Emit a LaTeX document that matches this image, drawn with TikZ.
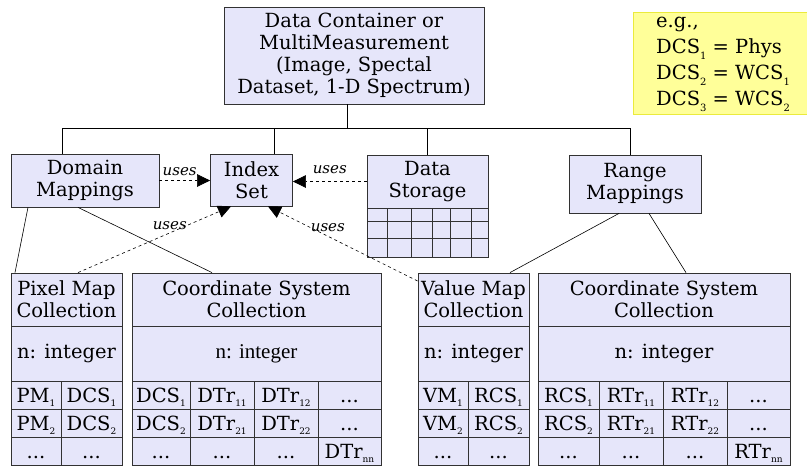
\documentclass[tikz,border=0pt]{standalone}
\usepackage{fontspec}
\setmainfont{DejaVu Serif}
\newfontfamily\libser{Liberation Serif}
\usetikzlibrary{arrows.meta,calc}
\definecolor{boxfill}{RGB}{230,230,250}
\definecolor{egfill}{RGB}{255,255,153}
\definecolor{egline}{RGB}{235,235,60}
\definecolor{edge}{RGB}{50,50,50}
\newcommand\sbs[1]{\raisebox{-4pt}{\fontsize{9}{9}\selectfont #1}}
\newcommand\esbs[1]{\raisebox{-6pt}{\fontsize{10}{10}\selectfont #1}}
\newcommand\tcell[6]{\node[cell,minimum width={#3-#2},minimum height={#5-#4}] (#1) at ({(#2+#3)/2},{(#4+#5)/2}) {#6};}
\newcommand\rcell[6]{\node[cell,rowtext,minimum width={#3-#2},minimum height={#5-#4}] (#1) at ({(#2+#3)/2},{(#4+#5)/2}) {#6};}
\begin{document}
\begin{tikzpicture}[x=1pt,y=-1pt,
  font=\fontsize{19.5}{22}\selectfont,
  box/.style={draw=edge, fill=boxfill, line width=0.8pt, inner sep=0pt, align=center},
  cell/.style={draw=edge, fill=boxfill, line width=0.8pt, inner sep=0pt, align=center},
  rowtext/.style={text height=16pt, text depth=2pt},
  uses/.style={dashed, line width=0.6pt, -{Triangle[length=13pt,width=12.5pt]}},
  uselbl/.style={font=\fontsize{15}{15}\selectfont\itshape, inner sep=1pt},
  link/.style={line width=0.6pt}]
\useasboundingbox (0,0) rectangle (807,466);

% top container
\node[box, minimum width=260, minimum height=97] (dc) at (354,55.5)
  {Data Container or\\MultiMeasurement\\(Image, Spectal\\Dataset, 1-D Spectrum)};

% e.g. box
\node[draw=egline, fill=egfill, line width=0.6pt, minimum width=174, minimum height=102, anchor=north west, inner sep=0pt] (eg) at (633,12) {};
\node[anchor=north west, align=left, inner sep=0pt, font=\fontsize{19.5}{25}\selectfont] (egt) at (656,17)
  {e.g.,\\[1pt]DCS\esbs{1} = Phys\\[1pt]DCS\esbs{2} = WCS\esbs{1}\\[1pt]DCS\esbs{3} = WCS\esbs{2}};

% second level
\node[box, minimum width=148, minimum height=53] (dm) at (85,180.5) {Domain\\Mappings};
\node[box, minimum width=82, minimum height=52] (is) at (251.5,180) {Index\\Set};
\node[box, minimum width=121, minimum height=53] (ds) at (427.5,181.5) {Data\\Storage};
\node[box, minimum width=121, minimum height=49, anchor=north] (dsg) at (427.5,208) {};
\draw[edge, line width=0.8pt]
  (367,221) -- (488,221) (367,238) -- (488,238)
  (387,208) -- (387,257) (411,208) -- (411,257) (432,208) -- (432,257)
  (450,208) -- (450,257) (471,208) -- (471,257);
\node[box, minimum width=132, minimum height=58] (rm) at (635,184) {Range\\Mappings};

% bus
\coordinate (bus) at (347,128);
\draw[link] ([xshift=-7pt]dc.south) -- (bus);
\draw[link] ([xshift=-23pt]dm.north) |- (bus);
\draw[link] ([xshift=22.5pt]is.north) |- (bus);
\draw[link] (ds.north) |- (bus);
\draw[link] ([xshift=-5pt]rm.north) |- (bus);

% Pixel map collection
\tcell{pm-h}{11}{122}{273}{326}{Pixel Map\\Collection}
\tcell{pm-n}{11}{122}{326}{381}{n: integer}
\rcell{pm-11}{11}{61}{381}{409}{PM\sbs{1}}
\rcell{pm-12}{61}{122}{381}{409}{DCS\sbs{1}}
\rcell{pm-21}{11}{61}{409}{437}{PM\sbs{2}}
\rcell{pm-22}{61}{122}{409}{437}{DCS\sbs{2}}
\rcell{pm-31}{11}{61}{437}{465}{...}
\rcell{pm-32}{61}{122}{437}{465}{...}

% Coordinate system collection (left)
\tcell{cl-h}{132}{381}{273}{326}{Coordinate System\\Collection}
\tcell{cl-n}{132}{381}{326}{381}{{\libser\fontsize{21}{22}\selectfont n: integer}}
\rcell{cl-11}{132}{190}{381}{409}{DCS\sbs{1}}
\rcell{cl-12}{190}{254}{381}{409}{DTr\sbs{11}}
\rcell{cl-13}{254}{318}{381}{409}{DTr\sbs{12}}
\rcell{cl-14}{318}{381}{381}{409}{...}
\rcell{cl-21}{132}{190}{409}{437}{DCS\sbs{2}}
\rcell{cl-22}{190}{254}{409}{437}{DTr\sbs{21}}
\rcell{cl-23}{254}{318}{409}{437}{DTr\sbs{22}}
\rcell{cl-24}{318}{381}{409}{437}{...}
\rcell{cl-31}{132}{190}{437}{465}{...}
\rcell{cl-32}{190}{254}{437}{465}{...}
\rcell{cl-33}{254}{318}{437}{465}{...}
\rcell{cl-34}{318}{381}{437}{465}{DTr\sbs{nn}}

% Value map collection
\tcell{vm-h}{418}{529}{273}{326}{Value Map\\Collection}
\tcell{vm-n}{418}{529}{326}{381}{n: integer}
\rcell{vm-11}{418}{468}{381}{409}{VM\sbs{1}}
\rcell{vm-12}{468}{529}{381}{409}{RCS\sbs{1}}
\rcell{vm-21}{418}{468}{409}{437}{VM\sbs{2}}
\rcell{vm-22}{468}{529}{409}{437}{RCS\sbs{2}}
\rcell{vm-31}{418}{468}{437}{465}{...}
\rcell{vm-32}{468}{529}{437}{465}{...}

% Coordinate system collection (right)
\tcell{cr-h}{538}{790}{273}{326}{Coordinate System\\Collection}
\tcell{cr-n}{538}{790}{326}{381}{n: integer}
\rcell{cr-11}{538}{599}{381}{409}{RCS\sbs{1}}
\rcell{cr-12}{599}{663}{381}{409}{RTr\sbs{11}}
\rcell{cr-13}{663}{727}{381}{409}{RTr\sbs{12}}
\rcell{cr-14}{727}{790}{381}{409}{...}
\rcell{cr-21}{538}{599}{409}{437}{RCS\sbs{2}}
\rcell{cr-22}{599}{663}{409}{437}{RTr\sbs{21}}
\rcell{cr-23}{663}{727}{409}{437}{RTr\sbs{22}}
\rcell{cr-24}{727}{790}{409}{437}{...}
\rcell{cr-31}{538}{599}{437}{465}{...}
\rcell{cr-32}{599}{663}{437}{465}{...}
\rcell{cr-33}{663}{727}{437}{465}{...}
\rcell{cr-34}{727}{790}{437}{465}{RTr\sbs{nn}}

% solid links
\draw[link] ([xshift=-57pt]dm.south) -- ([xshift=-51.5pt]pm-h.north);
\draw[link] ([xshift=-7pt]dm.south) -- ([xshift=-44.5pt]cl-h.north);
\draw[link] ([xshift=-16pt]rm.south) -- ([xshift=36.5pt]vm-h.north);
\draw[link] ([xshift=14pt]rm.south) -- ([xshift=22pt]cr-h.north);

% uses arrows
\draw[uses] (dm.east) -- (dm.east -| is.west)
  node[uselbl, pos=0.4, above=3pt] (u1) {uses};
\draw[uses] (ds.west) -- (ds.west -| is.east)
  node[uselbl, pos=0.5, above=6pt] (u2) {uses};
\draw[uses] ([xshift=11.5pt]pm-h.north) -- ([xshift=-20.5pt]is.south)
  node[uselbl, pos=0.6, above=2pt] (u3) {uses};
\draw[uses] ([yshift=18.5pt]vm-h.west) -- ([xshift=16.5pt]is.south)
  node[uselbl, pos=0.6, above=3pt] (u4) {uses};
\end{tikzpicture}
\end{document}
